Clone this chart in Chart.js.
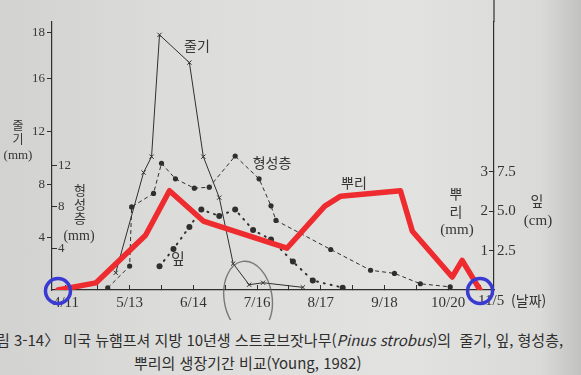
<!DOCTYPE html>
<html lang="ko">
<head>
<meta charset="utf-8">
<title>스트로브잣나무 생장기간 비교</title>
<script src="https://cdn.jsdelivr.net/npm/chart.js@4.4.1/dist/chart.umd.min.js"></script>
<style>
  html, body { margin: 0; padding: 0; }
  body {
    width: 581px; height: 375px; overflow: hidden; position: relative;
    background: linear-gradient(90deg, #d2d2d0 0%, #dcdcda 30%, #e2e2e0 70%, #dadad8 93%, #c2c2c0 100%);
    font-family: "Noto Sans CJK KR", sans-serif; color: #363636;
  }
  #chart { position: absolute; left: 0; top: 0; }
  .t { position: absolute; white-space: nowrap; line-height: 1; transform: translate(-50%, -50%); }
  .serif { font-family: "Liberation Serif", serif; }
  .caption { position: absolute; white-space: nowrap; font-size: 15px; line-height: 1; color: #2e2e2e; }
</style>
</head>
<body>
<canvas id="chart" width="581" height="320"></canvas>

<!-- axis titles -->
<div class="t" style="left:18px;top:125px;font-size:12px">줄</div>
<div class="t" style="left:18px;top:139px;font-size:12px">기</div>
<div class="t serif" style="left:18px;top:154px;font-size:13px">(mm)</div>
<div class="t" style="left:80px;top:189px;font-size:13px">형</div>
<div class="t" style="left:80px;top:203px;font-size:13px">성</div>
<div class="t" style="left:80px;top:217px;font-size:13px">층</div>
<div class="t serif" style="left:79px;top:236px;font-size:14px">(mm)</div>
<div class="t" style="left:456px;top:193px;font-size:14px">뿌</div>
<div class="t" style="left:456px;top:211px;font-size:14px">리</div>
<div class="t serif" style="left:457px;top:229px;font-size:15px">(mm)</div>
<div class="t" style="left:537px;top:200px;font-size:14px">잎</div>
<div class="t serif" style="left:538px;top:220px;font-size:15px">(cm)</div>

<!-- series names -->
<div class="t" style="left:197px;top:45px;font-size:14px">줄기</div>
<div class="t" style="left:272px;top:162px;font-size:14px">형성층</div>
<div class="t" style="left:178px;top:257px;font-size:15px">잎</div>
<div class="t" style="left:354px;top:182px;font-size:14px">뿌리</div>

<div class="caption" style="left:-4px;top:332px">림 3-14〉 미국 뉴햄프셔 지방 10년생 스트로브잣나무(<i>Pinus strobus</i>)의&nbsp; 줄기, 잎, 형성층,</div>
<div class="caption" style="left:134px;top:355px">뿌리의 생장기간 비교(Young, 1982)</div>

<script>
// days counted from 4/11
const xTickDays = [0, 16, 32, 48, 64, 80, 96, 112, 128, 144, 160, 176, 192, 208];
const xLabelDays = [0, 32, 64, 96, 128, 160, 192, 208];
const xLabels = ['4/11', '5/13', '6/14', '7/16', '8/17', '9/18', '10/20', '11/5'];
const xUnit = '(날짜)';

const stemTicks = [4, 8, 12, 16, 18];
const cambiumTicks = [4, 8, 12];
const rootTicks = [1, 2, 3];
const leafTicks = [2.5, 5, 7.5];

// 줄기 (mm)
const stemDays = [25, 39, 43, 47, 62, 69, 77, 84, 92, 99, 119];
const stemValues = [1.3, 8.9, 10.1, 17.9, 16.7, 10.1, 7.0, 2.0, 0.4, 0.55, 0.2];

// 형성층 (mm)
const cambiumDays = [21, 32, 33, 44, 48, 55, 64.5, 72, 85, 97, 103, 105.5, 133, 153, 165, 178, 193];
const cambiumValues = [0.2, 2.3, 8.0, 9.3, 12.2, 10.7, 9.8, 9.9, 12.9, 10.7, 8.1, 6.7, 3.9, 1.9, 1.6, 0.6, 0.3];

// 잎 (cm)
const leafDays = [47, 54, 62, 68, 77, 85, 94, 103, 114, 124, 139];
const leafValues = [1.5, 2.6, 4.0, 5.1, 4.7, 5.1, 3.8, 3.2, 1.8, 0.6, 0.15];

// 뿌리 (mm) - red pen line
const rootDays = [-4, 15, 40, 52, 69, 111, 130, 138, 168, 174, 194, 199, 208];
const rootValues = [0, 0.18, 1.39, 2.52, 1.75, 1.06, 2.13, 2.38, 2.52, 1.49, 0.33, 0.75, 0];

const INK = '#2f2f2f';
const toPoints = (days, vals) => days.map((d, i) => ({ x: d, y: vals[i] }));

// the stem axis is printed with 16 -> 18 spread over almost a full 4 mm step
const stretch = v => (v <= 16 ? v : 16 + (v - 16) * 1.75);
const shrink = u => (u <= 16 ? u : 16 + (u - 16) / 1.75);

class StemScale extends Chart.LinearScale {
  getPixelForValue(value) {
    return super.getPixelForValue(stretch(value));
  }
  getValueForPixel(pixel) {
    return shrink(super.getValueForPixel(pixel));
  }
}
StemScale.id = 'stemScale';
StemScale.defaults = Chart.LinearScale.defaults;
Chart.register(StemScale);

function fixedTicks(list) {
  return scale => { scale.ticks = list.map(v => ({ value: v })); };
}
function fixWidth(w) {
  return scale => { scale.width = w; };
}

const lastDay = xLabelDays[xLabelDays.length - 1];

const marksPlugin = {
  id: 'marks',
  afterDraw(chart) {
    const { ctx, scales, chartArea } = chart;
    const x = scales.x, root = scales.root;
    ctx.save();

    // right axis line runs on up past the plot top
    ctx.strokeStyle = INK;
    ctx.lineWidth = 1.2;
    ctx.beginPath();
    ctx.moveTo(chartArea.right, 0);
    ctx.lineTo(chartArea.right, chartArea.top);
    ctx.stroke();

    // last date is printed starting at its tick, followed by the unit
    const lx = x.getPixelForValue(lastDay) - 2;
    const ly = chartArea.bottom + 11;
    ctx.fillStyle = '#333';
    ctx.textBaseline = 'middle';
    ctx.textAlign = 'left';
    ctx.font = '15px "Liberation Serif"';
    ctx.fillText(xLabels[xLabels.length - 1], lx, ly);
    ctx.font = '14px "Noto Sans CJK KR"';
    ctx.fillText(xUnit, lx + 33, ly);

    // blue pen circles on the first and last root points
    ctx.strokeStyle = '#3a3ad2';
    ctx.lineWidth = 3.5;
    [0, rootDays.length - 1].forEach(i => {
      ctx.beginPath();
      ctx.arc(x.getPixelForValue(rootDays[i]), root.getPixelForValue(rootValues[i]) + 1, 12.5, 0, Math.PI * 2);
      ctx.stroke();
    });

    // pencil loop around 7/16
    ctx.strokeStyle = 'rgba(95,95,95,0.8)';
    ctx.lineWidth = 1.4;
    ctx.beginPath();
    ctx.ellipse(x.getPixelForValue(96) - 9, chartArea.bottom + 8, 24, 37, -0.15, 0, Math.PI * 2);
    ctx.stroke();
    ctx.restore();
  }
};

new Chart(document.getElementById('chart'), {
  type: 'line',
  data: {
    datasets: [
      {
        label: '뿌리',
        data: toPoints(rootDays, rootValues),
        yAxisID: 'root',
        borderColor: '#ee2b2e',
        borderWidth: 5.5,
        borderJoinStyle: 'round',
        borderCapStyle: 'round',
        pointRadius: 0
      },
      {
        label: '줄기',
        data: toPoints(stemDays, stemValues),
        yAxisID: 'stem',
        borderColor: INK,
        borderWidth: 1,
        pointStyle: 'crossRot',
        pointRadius: 3,
        pointBorderColor: INK,
        pointBorderWidth: 1
      },
      {
        label: '형성층',
        data: toPoints(cambiumDays, cambiumValues),
        yAxisID: 'cambium',
        borderColor: INK,
        borderWidth: 1,
        borderDash: [4, 3],
        pointRadius: 2.6,
        pointBackgroundColor: INK,
        pointBorderColor: INK,
        pointBorderWidth: 0
      },
      {
        label: '잎',
        data: toPoints(leafDays, leafValues),
        yAxisID: 'leaf',
        borderColor: INK,
        borderWidth: 2,
        borderDash: [1, 6],
        borderCapStyle: 'round',
        pointRadius: 3,
        pointBackgroundColor: INK,
        pointBorderColor: INK,
        pointBorderWidth: 0
      }
    ]
  },
  options: {
    responsive: false,
    animation: false,
    layout: { padding: { top: 22, left: 0, right: 0, bottom: 0 } },
    plugins: { legend: { display: false }, tooltip: { enabled: false } },
    elements: { line: { tension: 0 } },
    scales: {
      x: {
        type: 'linear',
        min: -7,
        max: 215,
        afterBuildTicks: fixedTicks(xTickDays),
        afterFit: scale => { scale.height = 30; },
        grid: { drawOnChartArea: false, tickLength: -5, color: INK, lineWidth: 1 },
        border: { display: true, color: INK, width: 1.2 },
        ticks: {
          autoSkip: false,
          maxRotation: 0,
          padding: 9,
          color: '#333',
          font: { family: 'Liberation Serif', size: 15 },
          callback: value => {
            const i = xLabelDays.indexOf(value);
            return i >= 0 && value !== lastDay ? xLabels[i] : '';
          }
        }
      },
      stem: {
        type: 'stemScale',
        position: 'left',
        weight: 1,
        min: 0,
        max: 20.3,
        afterBuildTicks: fixedTicks(stemTicks),
        afterFit: fixWidth(52),
        grid: { drawOnChartArea: false, tickLength: 5, color: INK },
        border: { display: true, color: INK, width: 1.2 },
        ticks: { padding: 2, color: '#3a3a3a', font: { family: 'Liberation Serif', size: 13 } }
      },
      cambium: {
        type: 'linear',
        position: 'left',
        weight: 0,
        min: 0,
        max: 25.8,
        afterBuildTicks: fixedTicks(cambiumTicks),
        afterFit: fixWidth(0),
        grid: { drawOnChartArea: false, tickLength: -5, color: INK },
        border: { display: false },
        ticks: { mirror: true, padding: 6, color: '#3a3a3a', font: { family: 'Liberation Serif', size: 13 } }
      },
      root: {
        type: 'linear',
        position: 'right',
        weight: 0,
        min: 0,
        max: 6.8,
        afterBuildTicks: fixedTicks(rootTicks),
        afterFit: fixWidth(0),
        grid: { drawOnChartArea: false, tickLength: -5, color: INK },
        border: { display: true, color: INK, width: 1.2 },
        ticks: { mirror: true, padding: -6, color: '#333', font: { family: 'Liberation Serif', size: 15 } }
      },
      leaf: {
        type: 'linear',
        position: 'right',
        weight: 1,
        min: 0,
        max: 17,
        afterBuildTicks: fixedTicks(leafTicks),
        afterFit: fixWidth(87),
        grid: { display: false, drawTicks: false, tickLength: 0 },
        border: { display: false },
        ticks: {
          padding: 3,
          color: '#333',
          font: { family: 'Liberation Serif', size: 15 },
          callback: value => value.toFixed(1)
        }
      }
    }
  },
  plugins: [marksPlugin]
});
</script>
</body>
</html>
